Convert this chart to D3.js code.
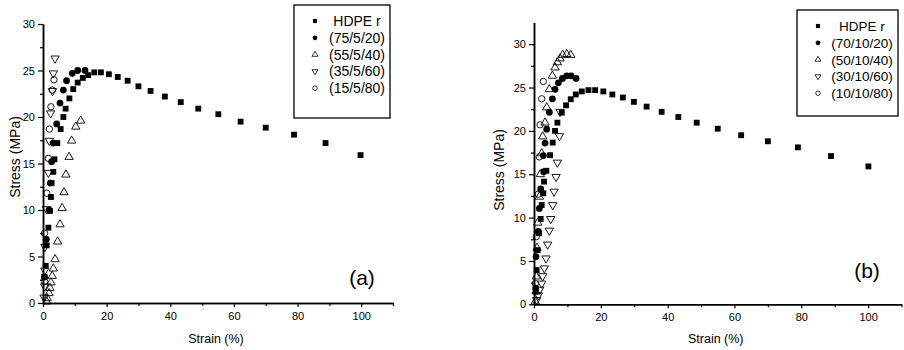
<!DOCTYPE html>
<html>
<head>
<meta charset="utf-8">
<script src="https://cdn.jsdelivr.net/npm/d3@7"></script>
<style>
  body { margin: 0; background: #fff; }
  svg { display: block; font-family: "Liberation Sans", Arial, sans-serif; }
  .axis path, .axis line { stroke: #000; }
  .axis path { stroke-width: 1.5; }
  .axis line { stroke-width: 1.2; }
  .axis text { font-size: 11px; fill: #000; }
</style>
</head>
<body>
<svg id="chart" width="904" height="350"></svg>
<script>
// panel (a) series: [strain %, stress MPa]
const hdpeA = [[0.4,2.8],[0.85,4.0],[1.15,6.2],[1.7,8.1],[2.2,9.9],[2.5,11.4],[2.7,12.9],[3.25,14.1],[3.6,15.45],[4.5,17.2],[5.55,18.7],[6.4,20.0],[7.1,20.9],[8.3,22.0],[9.5,23.0],[10.9,23.7],[12.5,24.2],[14.2,24.5],[16.1,24.8],[18.2,24.8],[20.7,24.6],[23.5,24.3],[26.6,23.9],[30.0,23.3],[33.8,22.8],[38.3,22.2],[43.3,21.6],[48.8,20.9],[55.1,20.3],[62.1,19.5],[70.0,18.85],[78.9,18.1],[88.8,17.2],[99.8,15.9]];
const blend75 = [[0.5,2.8],[1.05,6.85],[1.9,10.0],[2.3,12.9],[2.7,15.2],[3.2,17.2],[4.3,19.25],[5.35,21.5],[6.4,22.9],[7.4,23.9],[9.2,24.7],[10.9,25.0],[13.2,25.0]];
const blend55 = [[1.15,0.15],[1.35,0.5],[1.9,1.05],[2.2,1.6],[2.5,2.2],[2.9,2.9],[3.25,3.7],[3.8,4.7],[4.6,6.6],[5.35,8.45],[6.0,10.2],[6.6,11.9],[7.2,13.8],[8.2,15.7],[9.0,17.45],[10.3,18.95],[11.85,19.6]];
const blend35 = [[0.35,0.6],[0.5,1.8],[0.55,3.5],[0.6,6.05],[1.15,10.1],[1.7,14.0],[2.0,17.45],[2.4,20.4],[3.0,22.8],[3.25,24.7],[3.8,26.3]];
const blend15 = [[0.5,2.3],[0.5,7.5],[1.2,11.8],[1.7,15.55],[2.0,18.7],[2.5,21.1],[2.9,22.9],[3.45,24.0]];

// panel (b) series
const hdpeB = [[0.5,1.45],[0.8,3.95],[1.1,6.25],[1.5,8.2],[2.0,9.85],[2.3,11.45],[2.8,12.8],[3.0,14.15],[3.7,15.4],[4.8,17.2],[5.6,18.65],[6.3,20.0],[7.0,20.95],[8.3,22.1],[9.6,22.95],[11.0,23.65],[12.5,24.2],[14.3,24.55],[16.3,24.7],[18.3,24.7],[20.75,24.55],[23.45,24.2],[26.6,23.85],[29.9,23.35],[33.7,22.8],[38.2,22.2],[43.2,21.6],[48.7,20.95],[55.0,20.25],[62.0,19.5],[70.0,18.8],[79.0,18.1],[88.9,17.1],[100.1,15.9]];
const blend70 = [[0.5,1.85],[0.6,5.5],[1.3,8.4],[1.6,11.05],[2.0,13.3],[2.9,15.3],[2.8,17.15],[3.3,18.6],[3.8,20.2],[4.6,22.15],[5.5,23.7],[6.3,24.8],[7.3,25.55],[8.5,26.05],[9.8,26.35],[11.1,26.35],[12.6,26.05]];
const blend50 = [[0.4,0.3],[0.6,1.5],[0.7,3.2],[0.9,6.5],[1.1,9.4],[1.6,12.4],[1.9,15.0],[2.3,17.4],[2.6,19.35],[3.3,20.95],[3.8,22.7],[4.6,24.8],[5.5,26.35],[6.3,27.3],[7.0,27.9],[7.8,28.35],[8.6,28.75],[9.8,28.85],[11.0,28.75]];
const blend30 = [[0.8,0.5],[1.3,1.05],[1.7,1.7],[2.3,2.4],[2.6,3.25],[3.1,4.15],[3.6,5.3],[4.1,6.9],[4.6,8.5],[5.0,9.85],[5.6,11.45],[6.0,13.0],[6.6,14.7],[7.0,16.35],[7.6,19.4],[7.8,22.2]];
const blend10 = [[0.4,2.4],[0.7,7.8],[1.3,12.7],[1.6,17.0],[1.8,20.7],[2.3,23.7],[2.8,25.7]];

const labelsA = ["HDPE r", "(75/5/20)", "(55/5/40)", "(35/5/60)", "(15/5/80)"];
const labelsB = ["HDPE r", "(70/10/20)", "(50/10/40)", "(30/10/60)", "(10/10/80)"];

const xTicks = [0, 20, 40, 60, 80, 100];
const xMinor = [10, 30, 50, 70, 90, 110];
const yTicks = [0, 5, 10, 15, 20, 25, 30];
const yMinor = [2.5, 7.5, 12.5, 17.5, 22.5, 27.5];

// marker style per series position: square, filled circle, up tri, down tri, open circle
const markers = [
  {type: d3.symbolSquare, size: 34, fill: "#000", rot: 0},
  {type: d3.symbolCircle, size: 36, fill: "#000", rot: 0},
  {type: d3.symbolTriangle, size: 30, fill: "none", rot: 0},
  {type: d3.symbolTriangle, size: 30, fill: "none", rot: 180},
  {type: d3.symbolCircle, size: 32, fill: "none", rot: 0}
];

const svg = d3.select("#chart");

function drawPanel(p) {
  const x = d3.scaleLinear().domain([0, 110]).range(p.xRange);
  const y = d3.scaleLinear().domain(p.yDomain).range(p.yRange);
  const g = svg.append("g");

  // axes
  g.append("g").attr("class", "axis")
    .attr("transform", `translate(0,${p.yRange[0]})`)
    .call(d3.axisBottom(x).tickValues(xMinor).tickSize(3).tickSizeOuter(0).tickFormat(""));
  g.append("g").attr("class", "axis")
    .attr("transform", `translate(0,${p.yRange[0]})`)
    .call(d3.axisBottom(x).tickValues(xTicks).tickSize(4).tickSizeOuter(0).tickPadding(5));
  g.append("g").attr("class", "axis")
    .attr("transform", `translate(${p.xRange[0]},0)`)
    .call(d3.axisLeft(y).tickValues(yMinor).tickSize(3).tickSizeOuter(0).tickFormat(""));
  g.append("g").attr("class", "axis")
    .attr("transform", `translate(${p.xRange[0]},0)`)
    .call(d3.axisLeft(y).tickValues(yTicks).tickSize(5).tickSizeOuter(0).tickPadding(3));

  // points
  p.series.forEach((data, i) => {
    const m = markers[i];
    g.append("g").selectAll("path")
      .data(data)
      .join("path")
      .attr("d", d3.symbol().type(m.type).size(m.size))
      .attr("transform", d => `translate(${x(d[0])},${y(d[1])}) rotate(${m.rot})`)
      .attr("fill", m.fill)
      .attr("stroke", "#000")
      .attr("stroke-width", m.fill === "none" ? 0.9 : 0);
  });

  // axis titles
  g.append("text")
    .attr("x", (p.xRange[0] + p.xRange[1]) / 2 - 2)
    .attr("y", 343)
    .attr("text-anchor", "middle")
    .style("font-size", "12.5px")
    .text("Strain (%)");
  g.append("text")
    .attr("transform", `translate(${p.yLabelX},${p.yLabelY}) rotate(-90)`)
    .attr("text-anchor", "middle")
    .style("font-size", "14px")
    .text("Stress (MPa)");

  // panel tag
  g.append("text")
    .attr("x", p.tag[0]).attr("y", p.tag[1])
    .attr("text-anchor", "middle")
    .style("font-size", "21px")
    .text(p.tagText);

  // legend
  const lg = svg.append("g");
  lg.append("rect")
    .attr("x", p.legend.x).attr("y", p.legend.y)
    .attr("width", p.legend.w).attr("height", p.legend.h)
    .attr("fill", "#fff").attr("stroke", "#000").attr("stroke-width", 1.3);
  p.labels.forEach((lab, i) => {
    const m = markers[i];
    const cy = p.legend.y + 16 + i * 16.8;
    lg.append("path")
      .attr("d", d3.symbol().type(m.type).size(m.size * 0.5))
      .attr("transform", `translate(${p.legend.x + 21},${cy}) rotate(${m.rot})`)
      .attr("fill", m.fill)
      .attr("stroke", "#000")
      .attr("stroke-width", m.fill === "none" ? 0.8 : 0);
    lg.append("text")
      .attr("x", p.legend.x + p.legend.textX)
      .attr("y", cy + 5)
      .attr("text-anchor", "middle")
      .style("font-size", p.legend.fs)
      .text(lab);
  });
}

drawPanel({
  xRange: [43, 393], yDomain: [0, 30], yRange: [303, 24],
  series: [hdpeA, blend75, blend55, blend35, blend15],
  labels: labelsA,
  yLabelX: 20, yLabelY: 157,
  tag: [362, 285], tagText: "(a)",
  legend: {x: 294, y: 5, w: 96, h: 113, textX: 63, fs: "14px"}
});

drawPanel({
  xRange: [534, 901.5], yDomain: [0, 32.5], yRange: [304.3, 22.5],
  series: [hdpeB, blend70, blend50, blend30, blend10],
  labels: labelsB,
  yLabelX: 504, yLabelY: 170,
  tag: [867, 278], tagText: "(b)",
  legend: {x: 797, y: 10, w: 101, h: 106, textX: 65, fs: "13.5px"}
});
</script>
</body>
</html>
